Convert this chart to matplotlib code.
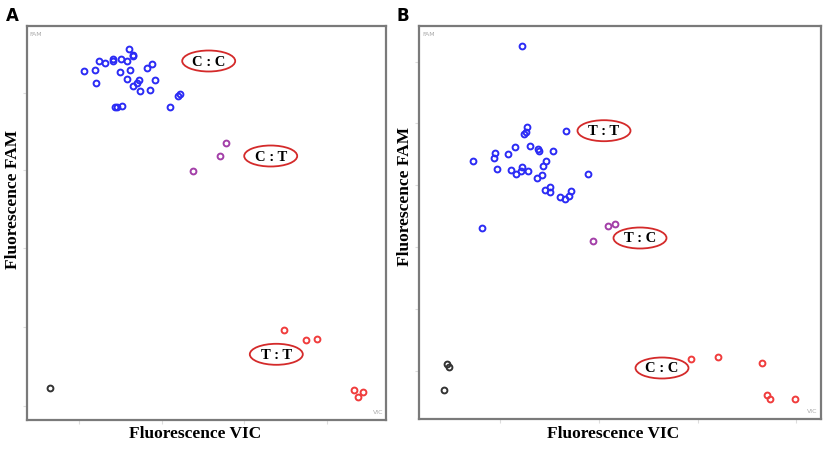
import matplotlib.pyplot as plt
from matplotlib.patches import Ellipse

# readings in arbitrary fluorescence units (VIC, FAM)
a_blue_vic = [56.7, 67.7, 69.3, 71.7, 78, 86, 86, 94.3, 100, 102, 105.7, 106.3, 93, 103.3, 100,
              112, 109.7, 106, 113.3, 122.7, 128.3, 119.7, 124.7, 88, 90, 95.3, 142.7, 151.3, 152.7]
a_blue_fam = [349, 350.3, 337.3, 359, 356.7, 361.3, 359.3, 361.3, 359.3, 371, 364, 365, 348, 350.3, 341,
              339.7, 336.7, 334.3, 329, 329.7, 340, 352.3, 356, 312.7, 313.3, 314, 312.7, 324.3, 326.3]
a_purple_vic = [199.3, 192.7, 166]
a_purple_fam = [277, 263.7, 248.7]
a_red_vic = [257.3, 278.7, 289.7, 327.3, 330.7, 336]
a_red_fam = [89.7, 80, 81, 29.7, 23, 27.7]
a_black_vic = [22.7]
a_black_fam = [31.7]

b_blue_vic = [102.7, 107.7, 107, 105, 147, 96, 111.3, 119.3, 119.7, 134.3, 89, 75.7, 74.7, 54.3,
              77.7, 91.7, 97.3, 101.7, 103.3, 109.3, 117.7, 123, 124.3, 127, 169.3, 131.3, 126,
              131.3, 141, 146, 150.3, 152.3, 62.7]
b_blue_fam = [373.3, 291.7, 287.3, 284.7, 288.3, 271.7, 273, 270.3, 267.7, 267.7, 265, 265.7, 261.3, 258,
              250, 248.7, 245.3, 247.7, 252.3, 247.7, 241, 244.3, 253, 257.7, 244.7, 232, 229,
              226.7, 221.7, 220.3, 222.7, 227.7, 191]
b_purple_vic = [189.3, 196, 173.7]
b_purple_fam = [193, 195.3, 178]
b_red_vic = [272, 298.7, 342.7, 348.3, 351, 375.7]
b_red_fam = [60, 62, 56, 24.3, 20.3, 20]
b_black_vic = [27.7, 30.3, 25]
b_black_fam = [55, 52.3, 29]

a_labels = ["C : C", "C : T", "T : T"]
a_label_pos = [(181.7, 359), (243.7, 264), (249.3, 65.7)]
b_labels = ["T : T", "T : C", "C : C"]
b_label_pos = [(185, 288.3), (221, 181), (243, 51)]

a_xticks = [52, 135, 217, 300]
a_yticks = [14, 93, 172, 250, 327]
b_xticks = [81, 180, 279, 377]
b_yticks = [48, 110, 172, 234, 296, 357]

W, H = 829, 450
fig = plt.figure(figsize=(W / 100, H / 100), dpi=100)

serif = "Liberation Serif"


def panel(rect, lim, groups, labels, label_pos, xticks, yticks):
    ax = fig.add_axes(rect)
    for vic, fam, col in groups:
        ax.plot(vic, fam, "o", ms=4.2, mfc="none", mec=col, mew=1.4)
    for txt, (x, y) in zip(labels, label_pos):
        ax.add_patch(Ellipse((x, y), 53, 21, fill=False, ec="#d42a2a", lw=1.3))
        ax.text(x, y - 1, txt, ha="center", va="center", fontsize=10.5,
                fontweight="bold", family=serif)
    ax.set_xlim(0, lim[0])
    ax.set_ylim(0, lim[1])
    ax.set_xticks(xticks)
    ax.set_yticks(yticks)
    ax.set_xticklabels([])
    ax.set_yticklabels([])
    ax.tick_params(length=3, width=0.8, color="#dddddd")
    for s in ax.spines.values():
        s.set_color("#7a7a7a")
        s.set_linewidth(1.6)
    ax.text(0.008, 0.985, "FAM", transform=ax.transAxes, fontsize=4.5,
            color="#aaaaaa", ha="left", va="top")
    ax.text(0.992, 0.012, "VIC", transform=ax.transAxes, fontsize=4.5,
            color="#aaaaaa", ha="right", va="bottom")
    return ax


colors = {"blue": "#2b2bf5", "purple": "#a33fa8", "red": "#f03c3c", "black": "#333333"}

panel([27 / W, (H - 420) / H, 359 / W, 394 / H], (359, 394),
      [(a_blue_vic, a_blue_fam, colors["blue"]),
       (a_purple_vic, a_purple_fam, colors["purple"]),
       (a_red_vic, a_red_fam, colors["red"]),
       (a_black_vic, a_black_fam, colors["black"])],
      a_labels, a_label_pos, a_xticks, a_yticks)

panel([419 / W, (H - 419) / H, 402 / W, 393 / H], (402, 393),
      [(b_blue_vic, b_blue_fam, colors["blue"]),
       (b_purple_vic, b_purple_fam, colors["purple"]),
       (b_red_vic, b_red_fam, colors["red"]),
       (b_black_vic, b_black_fam, colors["black"])],
      b_labels, b_label_pos, b_xticks, b_yticks)

# panel letters and axis titles
fig.text(12 / W, 1 - 16 / H, "A", fontsize=12, fontweight="bold", ha="center", va="center")
fig.text(403 / W, 1 - 16 / H, "B", fontsize=12, fontweight="bold", ha="center", va="center")
fig.text(195 / W, 1 - 434 / H, "Fluorescence VIC", fontsize=12.5, fontweight="bold",
         family=serif, ha="center", va="center")
fig.text(613 / W, 1 - 434 / H, "Fluorescence VIC", fontsize=12.5, fontweight="bold",
         family=serif, ha="center", va="center")
fig.text(13 / W, 1 - 199 / H, "Fluorescence FAM", fontsize=12.5, fontweight="bold",
         family=serif, ha="center", va="center", rotation=90)
fig.text(405 / W, 1 - 196 / H, "Fluorescence FAM", fontsize=12.5, fontweight="bold",
         family=serif, ha="center", va="center", rotation=90)

fig.savefig("out.png", dpi=100)
